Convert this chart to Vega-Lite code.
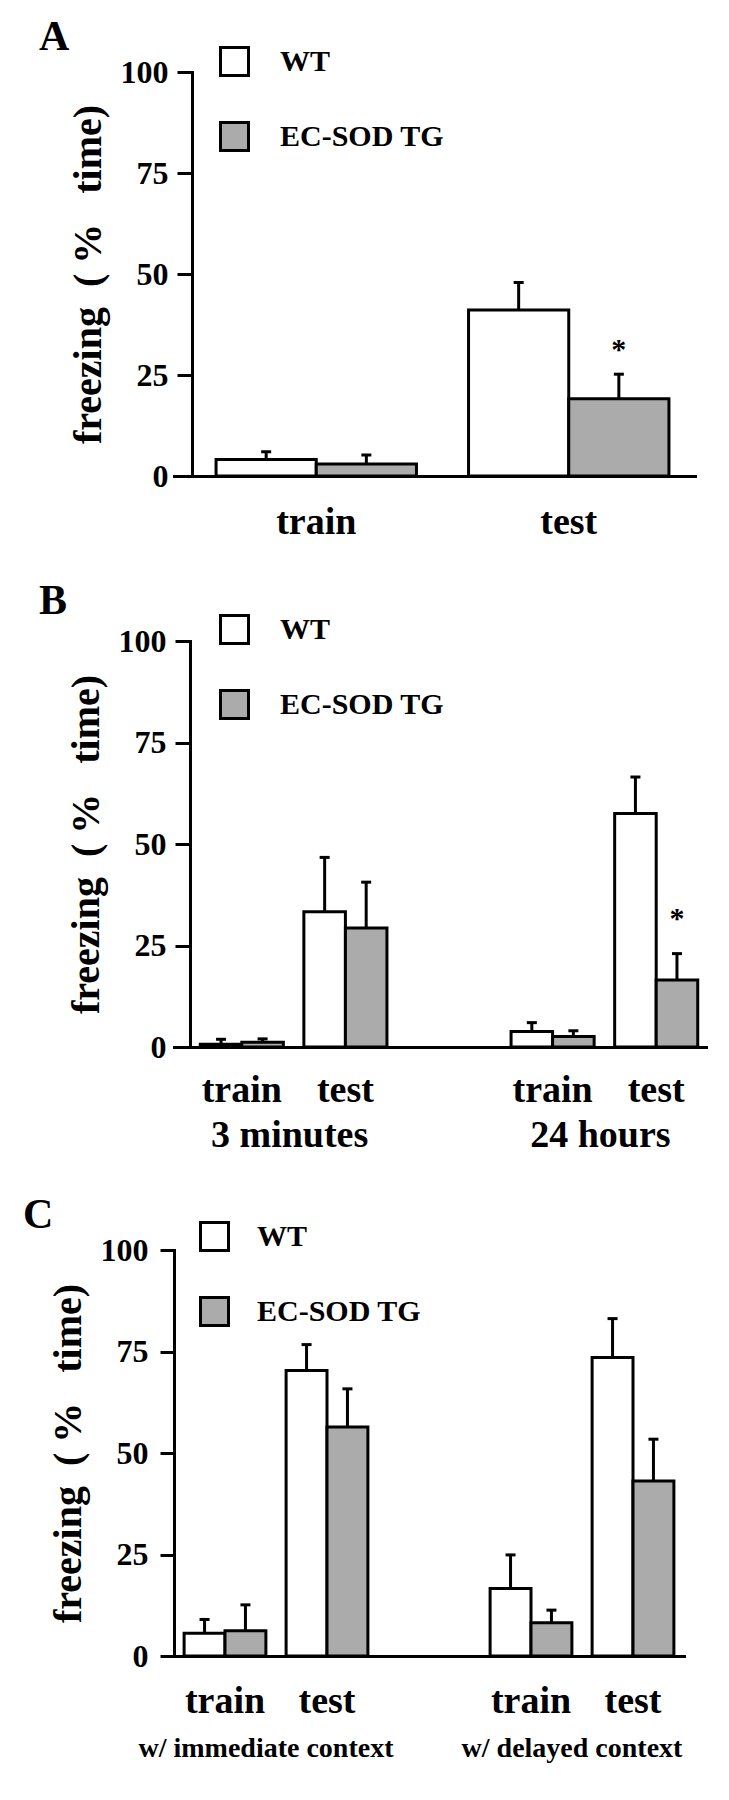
{
  "$schema": "https://vega.github.io/schema/vega-lite/v6.json",
  "padding": {"left": 23, "top": 16, "right": 0, "bottom": 0},
  "spacing": 39,
  "datasets": {
    "bars": [
      {"panel": "A", "slot": "train", "genotype": "WT", "value": 4.1, "err": 6.0},
      {"panel": "A", "slot": "train", "genotype": "EC-SOD TG", "value": 3.0, "err": 5.2},
      {"panel": "A", "slot": "test", "genotype": "WT", "value": 41.1, "err": 47.9},
      {"panel": "A", "slot": "test", "genotype": "EC-SOD TG", "value": 19.1, "err": 25.2},
      {"panel": "B", "slot": "train-3m", "genotype": "WT", "value": 0.7, "err": 1.9},
      {"panel": "B", "slot": "train-3m", "genotype": "EC-SOD TG", "value": 1.2, "err": 2.0},
      {"panel": "B", "slot": "test-3m", "genotype": "WT", "value": 33.3, "err": 46.7},
      {"panel": "B", "slot": "test-3m", "genotype": "EC-SOD TG", "value": 29.3, "err": 40.6},
      {"panel": "B", "slot": "train-24h", "genotype": "WT", "value": 3.8, "err": 6.0},
      {"panel": "B", "slot": "train-24h", "genotype": "EC-SOD TG", "value": 2.6, "err": 4.0},
      {"panel": "B", "slot": "test-24h", "genotype": "WT", "value": 57.5, "err": 66.5},
      {"panel": "B", "slot": "test-24h", "genotype": "EC-SOD TG", "value": 16.5, "err": 23.0},
      {"panel": "C", "slot": "train-imm", "genotype": "WT", "value": 5.6, "err": 9.0},
      {"panel": "C", "slot": "train-imm", "genotype": "EC-SOD TG", "value": 6.2, "err": 12.6},
      {"panel": "C", "slot": "test-imm", "genotype": "WT", "value": 70.3, "err": 76.7},
      {"panel": "C", "slot": "test-imm", "genotype": "EC-SOD TG", "value": 56.4, "err": 65.8},
      {"panel": "C", "slot": "train-del", "genotype": "WT", "value": 16.6, "err": 24.9},
      {"panel": "C", "slot": "train-del", "genotype": "EC-SOD TG", "value": 8.2, "err": 11.3},
      {"panel": "C", "slot": "test-del", "genotype": "WT", "value": 73.5, "err": 83.1},
      {"panel": "C", "slot": "test-del", "genotype": "EC-SOD TG", "value": 43.1, "err": 53.4}
    ],
    "stars": [
      {"panel": "A", "slot": "test", "genotype": "EC-SOD TG", "pos": 31.2, "mark": "*"},
      {"panel": "B", "slot": "test-24h", "genotype": "EC-SOD TG", "pos": 31.5, "mark": "*"}
    ],
    "groups": [
      {"panel": "B", "slot": "train-3m", "label": "3 minutes"},
      {"panel": "B", "slot": "train-24h", "label": "24 hours"},
      {"panel": "C", "slot": "train-imm", "label": "w/ immediate context"},
      {"panel": "C", "slot": "train-del", "label": "w/ delayed context"}
    ]
  },
  "resolve": {
    "scale": {"x": "independent", "y": "independent", "xOffset": "independent", "fill": "independent"},
    "legend": {"fill": "independent"}
  },
  "vconcat": [
    {
      "width": 521,
      "height": 404,
      "title": {"text": "A", "dx": -135, "offset": -13},
      "layer": [
        {
          "data": {"name": "bars"},
          "transform": [{"filter": "datum.panel == 'A'"}],
          "mark": {"type": "bar", "stroke": "black", "strokeWidth": 3},
          "encoding": {
            "x": {"field": "slot", "type": "nominal", "scale": {"domain": ["train", "test"], "paddingInner": 0, "paddingOuter": 0.0317, "align": 1}, "axis": {"title": null, "labelFontSize": 38, "labelPadding": 57}},
            "xOffset": {"field": "genotype", "type": "nominal", "scale": {"domain": ["WT", "EC-SOD TG"], "paddingOuter": 0.26, "paddingInner": 0}},
            "y": {"field": "value", "type": "quantitative", "scale": {"domain": [0, 100], "nice": false},
                  "axis": {"values": [0, 25, 50, 75, 100], "offset": -18, "title": "\u00a0\u00a0\u00a0freezing\u00a0\u00a0(\u00a0%\u00a0\u00a0\u00a0time)"}},
            "fill": {"field": "genotype", "type": "nominal", "scale": {"domain": ["WT", "EC-SOD TG"], "range": ["white", "#ababab"]},
                     "legend": {"legendX": 45, "legendY": -26}}
          }
        },
        {
          "data": {"name": "bars"},
          "transform": [{"filter": "datum.panel == 'A'"}],
          "mark": {"type": "rule", "strokeWidth": 3, "color": "black"},
          "encoding": {
            "x": {"field": "slot", "type": "nominal"},
            "xOffset": {"field": "genotype", "type": "nominal"},
            "y": {"field": "value", "type": "quantitative"},
            "y2": {"field": "err"}
          }
        },
        {
          "data": {"name": "bars"},
          "transform": [{"filter": "datum.panel == 'A'"}],
          "mark": {"type": "tick", "orient": "horizontal", "size": 10, "thickness": 3, "color": "black", "opacity": 1},
          "encoding": {
            "x": {"field": "slot", "type": "nominal"},
            "xOffset": {"field": "genotype", "type": "nominal"},
            "y": {"field": "err", "type": "quantitative"}
          }
        },
        {
          "data": {"name": "stars"},
          "transform": [{"filter": "datum.panel == 'A'"}],
          "mark": {"type": "text", "fontSize": 30, "fontWeight": "bold", "baseline": "middle", "color": "black"},
          "encoding": {
            "x": {"field": "slot", "type": "nominal"},
            "xOffset": {"field": "genotype", "type": "nominal"},
            "y": {"field": "pos", "type": "quantitative"},
            "text": {"field": "mark"}
          }
        }
      ]
    },
    {
      "width": 534,
      "height": 406,
      "title": {"text": "B", "dx": -135, "offset": -9},
      "layer": [
        {
          "data": {"name": "bars"},
          "transform": [{"filter": "datum.panel == 'B'"}],
          "mark": {"type": "bar", "stroke": "black", "strokeWidth": 3},
          "encoding": {
            "x": {"field": "slot", "type": "nominal", "scale": {"domain": ["train-3m", "test-3m", "gap", "train-24h", "test-24h"], "paddingInner": 0, "paddingOuter": 0.0773, "align": 1},
                  "axis": {"title": null, "labelFontSize": 38, "labelPadding": 54, "labelExpr": "datum.label == 'gap' ? '' : slice(datum.label, 0, indexof(datum.label, '-'))"}},
            "xOffset": {"field": "genotype", "type": "nominal", "scale": {"domain": ["WT", "EC-SOD TG"], "paddingOuter": 0.247, "paddingInner": 0}},
            "y": {"field": "value", "type": "quantitative", "scale": {"domain": [0, 100], "nice": false},
                  "axis": {"values": [0, 25, 50, 75, 100], "offset": -16, "title": "\u00a0\u00a0\u00a0freezing\u00a0\u00a0(\u00a0%\u00a0\u00a0\u00a0time)"}},
            "fill": {"field": "genotype", "type": "nominal", "scale": {"domain": ["WT", "EC-SOD TG"], "range": ["white", "#ababab"]},
                     "legend": {"legendX": 45, "legendY": -27}}
          }
        },
        {
          "data": {"name": "bars"},
          "transform": [{"filter": "datum.panel == 'B'"}],
          "mark": {"type": "rule", "strokeWidth": 3, "color": "black"},
          "encoding": {
            "x": {"field": "slot", "type": "nominal"},
            "xOffset": {"field": "genotype", "type": "nominal"},
            "y": {"field": "value", "type": "quantitative"},
            "y2": {"field": "err"}
          }
        },
        {
          "data": {"name": "bars"},
          "transform": [{"filter": "datum.panel == 'B'"}],
          "mark": {"type": "tick", "orient": "horizontal", "size": 10, "thickness": 3, "color": "black", "opacity": 1},
          "encoding": {
            "x": {"field": "slot", "type": "nominal"},
            "xOffset": {"field": "genotype", "type": "nominal"},
            "y": {"field": "err", "type": "quantitative"}
          }
        },
        {
          "data": {"name": "stars"},
          "transform": [{"filter": "datum.panel == 'B'"}],
          "mark": {"type": "text", "fontSize": 30, "fontWeight": "bold", "baseline": "middle", "color": "black"},
          "encoding": {
            "x": {"field": "slot", "type": "nominal"},
            "xOffset": {"field": "genotype", "type": "nominal"},
            "y": {"field": "pos", "type": "quantitative"},
            "text": {"field": "mark"}
          }
        },
        {
          "data": {"name": "groups"},
          "transform": [{"filter": "datum.panel == 'B'"}],
          "mark": {"type": "text", "fontSize": 38, "fontWeight": "bold", "baseline": "alphabetic", "dy": 100, "dx": -4, "color": "black"},
          "encoding": {
            "x": {"field": "slot", "type": "nominal", "bandPosition": 1},
            "y": {"datum": 0, "type": "quantitative"},
            "text": {"field": "label"}
          }
        }
      ]
    },
    {
      "width": 510,
      "height": 406,
      "title": {"text": "C", "dx": -151, "offset": -16},
      "layer": [
        {
          "data": {"name": "bars"},
          "transform": [{"filter": "datum.panel == 'C'"}],
          "mark": {"type": "bar", "stroke": "black", "strokeWidth": 3},
          "encoding": {
            "x": {"field": "slot", "type": "nominal", "scale": {"domain": ["train-imm", "test-imm", "gap", "train-del", "test-del"], "paddingInner": 0, "paddingOuter": 0},
                  "axis": {"title": null, "labelFontSize": 38, "labelPadding": 56, "labelExpr": "datum.label == 'gap' ? '' : slice(datum.label, 0, indexof(datum.label, '-'))"}},
            "xOffset": {"field": "genotype", "type": "nominal", "scale": {"domain": ["WT", "EC-SOD TG"], "paddingOuter": 0.247, "paddingInner": 0}},
            "y": {"field": "value", "type": "quantitative", "scale": {"domain": [0, 100], "nice": false},
                  "axis": {"values": [0, 25, 50, 75, 100], "title": "\u00a0\u00a0\u00a0freezing\u00a0\u00a0(\u00a0%\u00a0\u00a0\u00a0time)", "labelPadding": 12, "tickSize": 14}},
            "fill": {"field": "genotype", "type": "nominal", "scale": {"domain": ["WT", "EC-SOD TG"], "range": ["white", "#ababab"]},
                     "legend": {"legendX": 25, "legendY": -29, "labelOffset": 27}}
          }
        },
        {
          "data": {"name": "bars"},
          "transform": [{"filter": "datum.panel == 'C'"}],
          "mark": {"type": "rule", "strokeWidth": 3, "color": "black"},
          "encoding": {
            "x": {"field": "slot", "type": "nominal"},
            "xOffset": {"field": "genotype", "type": "nominal"},
            "y": {"field": "value", "type": "quantitative"},
            "y2": {"field": "err"}
          }
        },
        {
          "data": {"name": "bars"},
          "transform": [{"filter": "datum.panel == 'C'"}],
          "mark": {"type": "tick", "orient": "horizontal", "size": 10, "thickness": 3, "color": "black", "opacity": 1},
          "encoding": {
            "x": {"field": "slot", "type": "nominal"},
            "xOffset": {"field": "genotype", "type": "nominal"},
            "y": {"field": "err", "type": "quantitative"}
          }
        },
        {
          "data": {"name": "groups"},
          "transform": [{"filter": "datum.panel == 'C'"}],
          "mark": {"type": "text", "fontSize": 28, "fontWeight": "bold", "baseline": "alphabetic", "dy": 101, "dx": -10, "color": "black"},
          "encoding": {
            "x": {"field": "slot", "type": "nominal", "bandPosition": 1},
            "y": {"datum": 0, "type": "quantitative"},
            "text": {"field": "label"}
          }
        }
      ]
    }
  ],
  "config": {
    "font": "Liberation Serif",
    "background": "white",
    "view": {"stroke": null},
    "axis": {
      "grid": false,
      "domainColor": "black",
      "domainWidth": 3,
      "tickColor": "black",
      "tickWidth": 3,
      "labelFont": "Liberation Serif",
      "labelFontWeight": "bold",
      "labelColor": "black",
      "titleFont": "Liberation Serif",
      "titleFontWeight": "bold",
      "titleColor": "black"
    },
    "axisX": {"ticks": false, "tickSize": 0, "labelAngle": 0, "labelBaseline": "alphabetic", "domainCap": "square"},
    "axisY": {"tickSize": 15, "labelFontSize": 32, "labelPadding": 9, "titleFontSize": 40, "titlePadding": 12, "domainCap": "square"},
    "legend": {
      "orient": "none",
      "title": null,
      "direction": "vertical",
      "symbolType": "square",
      "symbolSize": 784,
      "symbolStrokeColor": "black",
      "symbolStrokeWidth": 3,
      "symbolOpacity": 1,
      "labelFont": "Liberation Serif",
      "labelFontWeight": "bold",
      "labelFontSize": 30,
      "labelColor": "black",
      "labelLimit": 400,
      "labelOffset": 30,
      "rowPadding": 34
    },
    "title": {
      "anchor": "start",
      "frame": "group",
      "font": "Liberation Serif",
      "fontWeight": "bold",
      "fontSize": 42,
      "color": "black",
      "baseline": "alphabetic"
    }
  }
}
